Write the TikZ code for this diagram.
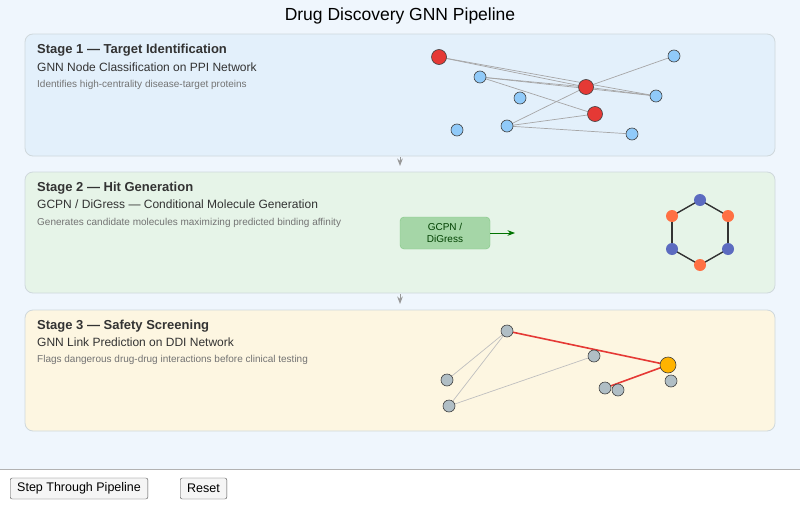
\documentclass[tikz,border=0pt]{standalone}
\usepackage{fontspec}
\setmainfont{Liberation Sans}
\usetikzlibrary{arrows.meta, positioning, backgrounds}
\pgfdeclarelayer{panels}
\pgfsetlayers{panels,background,main}
\definecolor{pagebg}{HTML}{EFF6FD}
\definecolor{panelA}{HTML}{E3F0FB}
\definecolor{panelB}{HTML}{E6F4E8}
\definecolor{panelC}{HTML}{FDF6E1}
\definecolor{edgegray}{HTML}{CFD8DC}
\definecolor{protred}{HTML}{E53935}
\definecolor{protblue}{HTML}{90CAF9}
\definecolor{atomblue}{HTML}{5C6BC0}
\definecolor{atomorange}{HTML}{FF7043}
\definecolor{drugGray}{HTML}{B0BEC5}
\definecolor{hitorange}{HTML}{FFB300}
\definecolor{genfill}{HTML}{A5D6A7}
\definecolor{gendraw}{HTML}{81C784}
\begin{document}
\begin{tikzpicture}[
    x=1pt, y=-1pt,
    panel/.style={draw=edgegray, rounded corners=8pt, line width=0.8pt},
    stitle/.style={anchor=base west, inner sep=0pt, font=\fontsize{13}{15}\selectfont\bfseries, text=black!80},
    ssub/.style={anchor=base west, inner sep=0pt, font=\fontsize{12}{14}\selectfont, text=black!80},
    sdesc/.style={anchor=base west, inner sep=0pt, font=\fontsize{10}{12}\selectfont, text=black!55},
    prot/.style={circle, draw=black!75, line width=0.6pt, inner sep=0pt, minimum size=#1},
    red/.style={prot=15pt, fill=protred},
    blue/.style={prot=12pt, fill=protblue},
    drug/.style={prot=12pt, fill=drugGray},
    atom/.style={circle, inner sep=0pt, minimum size=12pt, fill=#1},
    link/.style={draw=black!35, line width=0.7pt},
    hitlink/.style={draw=protred, line width=1.6pt},
    button/.style={draw=black!70, fill=black!4, rounded corners=2pt, font=\fontsize{12.5}{14}\selectfont, minimum height=21pt, inner xsep=7pt},
    arrow/.style={->, >=Stealth}
]
    \useasboundingbox (0,0) rectangle (800,522);
    \begin{pgfonlayer}{panels}
    \fill[white] (0,0) rectangle (800,522);
    \fill[pagebg] (0,0) rectangle (800,469);
    \draw[black!30] (0,469) -- (800,469);
    % Panels
    \draw[panel, fill=panelA] (25,34) rectangle (775,156);
    \draw[panel, fill=panelB] (25,172) rectangle (775,293);
    \draw[panel, fill=panelC] (25,310) rectangle (775,431);
    \end{pgfonlayer}

    % Title
    \node[font=\fontsize{17.5}{20}\selectfont] (title) at (400,16) {Drug Discovery GNN Pipeline};

    % Stage 1
    \node[stitle] at (37,53) {Stage 1 — Target Identification};
    \node[ssub] at (37,71) {GNN Node Classification on PPI Network};
    \node[sdesc] at (37,87) {Identifies high-centrality disease-target proteins};

    \node[red] (r1) at (439,57) {};
    \node[blue] (b1) at (480,77) {};
    \node[red] (r2) at (586,87) {};
    \node[blue] (b2) at (674,56) {};
    \node[blue] (b3) at (656,96) {};
    \node[blue] (b4) at (520,98) {};
    \node[red] (r3) at (595,114) {};
    \node[blue] (b5) at (457,130) {};
    \node[blue] (b6) at (507,126) {};
    \node[blue] (b7) at (632,134) {};
    \begin{scope}[on background layer]
    \foreach \a/\b in {r1/r2, r1/b3, b1/r2, b1/b3, b1/r3, r2/b3, b6/r2, r2/b2, b6/r3, b6/b7}
        \path[link] (\a.center) -- (\b.center);
    \end{scope}

    % Stage 2
    \node[stitle] at (37,191) {Stage 2 — Hit Generation};
    \node[ssub] at (37,208) {GCPN / DiGress — Conditional Molecule Generation};
    \node[sdesc] at (37,225) {Generates candidate molecules maximizing predicted binding affinity};

    \node[draw=gendraw, fill=genfill, rounded corners=4pt,
          minimum width=90pt, minimum height=32pt, align=center,
          font=\fontsize{10}{12.5}\selectfont, text=green!25!black] (gen) at (445,233) {GCPN /\\DiGress};
    \coordinate (genout) at (515,233);
    \draw[arrow, green!45!black, line width=1pt] (gen) -- (genout);

    \node[atom=atomblue] (a1) at (700,200) {};
    \node[atom=atomorange] (a2) at (728,216) {};
    \node[atom=atomblue] (a3) at (728,249) {};
    \node[atom=atomorange] (a4) at (700,265) {};
    \node[atom=atomblue] (a5) at (672,249) {};
    \node[atom=atomorange] (a6) at (672,216) {};
    \begin{scope}[on background layer]
    \foreach \a/\b in {a1/a2, a2/a3, a3/a4, a4/a5, a5/a6, a6/a1}
        \draw[black!80, line width=1.4pt] (\a.center) -- (\b.center);
    \end{scope}

    % Stage 3
    \node[stitle] at (37,329) {Stage 3 — Safety Screening};
    \node[ssub] at (37,346) {GNN Link Prediction on DDI Network};
    \node[sdesc] at (37,362) {Flags dangerous drug-drug interactions before clinical testing};

    \node[drug] (d1) at (507,331) {};
    \node[drug] (d2) at (594,356) {};
    \node[prot=16pt, fill=hitorange] (hit) at (668,365) {};
    \node[drug] (d3) at (671,381) {};
    \node[drug] (d4) at (605,388) {};
    \node[drug] (d5) at (618,390) {};
    \node[drug] (d6) at (447,380) {};
    \node[drug] (d7) at (449,406) {};
    \begin{scope}[on background layer]
    \foreach \a/\b in {d1/d6, d1/d7, d7/d2}
        \path[link, draw=black!25] (\a.center) -- (\b.center);
    \path[hitlink] (d1.center) -- (hit.center);
    \path[hitlink] (hit.center) -- (d4.center);
    \end{scope}

    % Stage connectors
    \coordinate (c1a) at (400,157); \coordinate (c1b) at (400,166);
    \coordinate (c2a) at (400,294); \coordinate (c2b) at (400,304);
    \draw[arrow, black!40, line width=1pt] (c1a) -- (c1b);
    \draw[arrow, black!40, line width=1pt] (c2a) -- (c2b);

    % Buttons
    \node[button, anchor=west] (step) at (10,488.5) {Step Through Pipeline};
    \node[button, anchor=west] (reset) at (180,488.5) {Reset};
\end{tikzpicture}
\end{document}
